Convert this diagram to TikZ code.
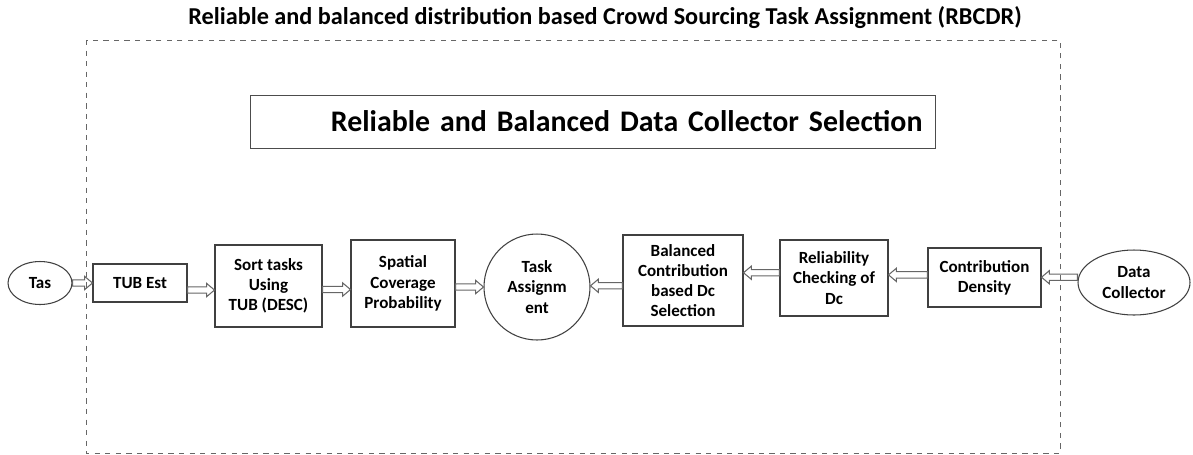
\documentclass[tikz,border=0pt]{standalone}
\usepackage{fontspec}
\setmainfont{Carlito}
\usetikzlibrary{shapes.geometric, positioning, calc}

\tikzset{
  blk/.style={draw=black!75, semithick, align=center, font=\fontsize{9.7}{11.5}\selectfont\bfseries},
  hollow/.style={draw=black!60, line width=0.6pt, to path={
    let \p1=(\tikztostart), \p2=(\tikztotarget), \n1={(\x2>\x1)?4.5:-4.5} in
    (\x1,\y1+1.8pt) -- ({\x2-(\n1)},\y1+1.8pt) -- ({\x2-(\n1)},\y1+3.8pt) -- (\x2,\y1)
    -- ({\x2-(\n1)},\y1-3.8pt) -- ({\x2-(\n1)},\y1-1.8pt) -- (\x1,\y1-1.8pt) -- cycle}}
}

\begin{document}
\begin{tikzpicture}[x=0.02cm, y=-0.02cm]
\useasboundingbox (0,0) rectangle (1193,454);
% title and frame
\node[font=\fontsize{13.8}{16}\selectfont\bfseries] (title) at (605,18)
  {Reliable and balanced distribution based Crowd Sourcing Task Assignment (RBCDR)};
\draw[dashed, black!60] (86,40) rectangle (1060,453);
\node[draw=black!70, minimum width=13.7cm, minimum height=1.06cm, text width=13.2cm, align=right,
  font=\fontsize{17}{20}\selectfont\bfseries] (sel) at (592.5,121.5)
  {Reliable and Balanced Data Collector Selection};

% task side
\node[blk, ellipse, minimum width=1.28cm, minimum height=0.86cm, inner sep=0pt] (tas) at (40,283) {Tas};
\node[blk, rectangle, minimum width=1.88cm, minimum height=0.76cm] (tub) at (140,283) {TUB Est};
\node[blk, rectangle, minimum width=2.14cm, minimum height=1.64cm] (sort) at (268.5,286) {Sort tasks\\Using\\TUB (DESC)};
\node[blk, rectangle, minimum width=2.08cm, minimum height=1.74cm] (spc) at (403,283.5) {Spatial\\Coverage\\Probability};
\node[blk, circle, minimum size=2.12cm, inner sep=0pt] (task) at (537,287) {Task\\Assignm\\ent};

% data collector side
\node[blk, rectangle, minimum width=2.4cm, minimum height=1.82cm] (bal) at (683,280.5) {Balanced\\Contribution\\based Dc\\Selection};
\node[blk, rectangle, minimum width=2.16cm, minimum height=1.52cm] (rel) at (834,278) {Reliability\\Checking of\\Dc};
\node[blk, rectangle, minimum width=2.26cm, minimum height=1.18cm] (cd) at (984.5,277.5) {Contribution\\Density};
\node[blk, ellipse, minimum width=2.24cm, minimum height=1.3cm, inner sep=0pt] (dc) at (1134,282.5) {Data\\Collector};

% hollow arrows
\draw[hollow] (tas.east) to (tas.east -| tub.west);
\draw[hollow] ([yshift=-4pt]tub.east) to ([yshift=-4pt]tub.east -| sort.west);
\draw[hollow] ([yshift=-2pt]sort.east) to ([yshift=-2pt]sort.east -| spc.west);
\draw[hollow] ([yshift=-2pt]spc.east) to ([yshift=-2pt]spc.east -| task.west);
\draw[hollow] ([yshift=-3pt]bal.west) to ([yshift=-3pt]bal.west -| task.east);
\draw[hollow] ([yshift=3pt]rel.west) to ([yshift=3pt]rel.west -| bal.east);
\draw[hollow] ([yshift=1.5pt]cd.west) to ([yshift=1.5pt]cd.west -| rel.east);
\draw[hollow] ([yshift=3pt]dc.west) to ([yshift=3pt]dc.west -| cd.east);
\end{tikzpicture}
\end{document}
